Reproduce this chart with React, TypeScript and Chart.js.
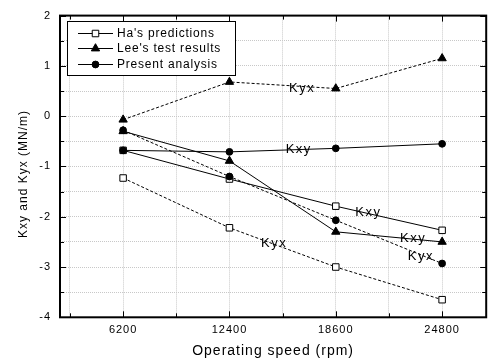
import { useEffect, useRef } from 'react';
import { Chart, registerables } from 'chart.js';

Chart.register(...registerables);

// Operating speeds (rpm)
const speeds = [6200, 12400, 18600, 24800];

// Cross-coupled stiffness, MN/m
const haKxy = [-0.68, -1.25, -1.79, -2.27];
const haKyx = [-1.23, -2.22, -3.0, -3.65];
const leeKxy = [-0.3, -0.89, -2.3, -2.5];
const leeKyx = [-0.07, 0.68, 0.55, 1.15];
const presentKxy = [-0.68, -0.71, -0.64, -0.55];
const presentKyx = [-0.28, -1.2, -2.07, -2.93];

// Axis ticks
const xTicks = [3100, 6200, 9300, 12400, 15500, 18600, 21700, 24800];
const xLabelled = [6200, 12400, 18600, 24800];
const yTicks = [-4, -3.5, -3, -2.5, -2, -1.5, -1, -0.5, 0, 0.5, 1, 1.5, 2];

// Curve names written beside the lines (data coordinates)
const curveLabelText = ['Kyx', 'Kxy', 'Kxy', 'Kxy', 'Kyx', 'Kyx'];
const curveLabelX = [16640, 16440, 20500, 23110, 23560, 15000];
const curveLabelY = [0.56, -0.66, -1.92, -2.43, -2.78, -2.54];

const legendNames = ["Ha's predictions", "Lee's test results", 'Present analysis'];
const legendStyles = ['rect', 'triangle', 'circle'];

const FONT = '"Liberation Sans", Arial, Helvetica, sans-serif';
const INK = '#000';

const pts = (ys: number[]) => speeds.map((x, i) => ({ x, y: ys[i] }));

function drawMarker(ctx: CanvasRenderingContext2D, style: string, x: number, y: number) {
  ctx.save();
  ctx.lineWidth = 1;
  ctx.strokeStyle = INK;
  ctx.beginPath();
  if (style === 'rect') {
    const s = 4.6 * Math.SQRT1_2;
    ctx.rect(x - s, y - s, 2 * s, 2 * s);
    ctx.fillStyle = '#fff';
  } else if (style === 'triangle') {
    const r = 4.8;
    ctx.moveTo(x, y - r);
    ctx.lineTo(x + r * Math.sin((2 * Math.PI) / 3), y + r / 2);
    ctx.lineTo(x - r * Math.sin((2 * Math.PI) / 3), y + r / 2);
    ctx.closePath();
    ctx.fillStyle = INK;
  } else {
    ctx.arc(x, y, 3.4, 0, Math.PI * 2);
    ctx.fillStyle = INK;
  }
  ctx.fill();
  ctx.stroke();
  ctx.restore();
}

const framePlugin = {
  id: 'frame',
  beforeDraw(chart: any) {
    chart.ctx.letterSpacing = '1px';
  },
  beforeDatasetsDraw(chart: any) {
    const { ctx, chartArea: a, scales } = chart;
    ctx.save();
    ctx.strokeStyle = INK;
    ctx.lineWidth = 1;
    ctx.beginPath();
    for (const v of xTicks) {
      const px = Math.round(scales.x.getPixelForValue(v)) + 0.5;
      const len = xLabelled.includes(v) ? 6 : 4;
      ctx.moveTo(px, a.bottom);
      ctx.lineTo(px, a.bottom - len);
      ctx.moveTo(px, a.top);
      ctx.lineTo(px, a.top + len);
    }
    for (const v of yTicks) {
      const py = Math.round(scales.y.getPixelForValue(v)) + 0.5;
      const len = Number.isInteger(v) ? 6 : 4;
      ctx.moveTo(a.left, py);
      ctx.lineTo(a.left + len, py);
      ctx.moveTo(a.right, py);
      ctx.lineTo(a.right - len, py);
    }
    ctx.stroke();
    ctx.lineWidth = 2;
    ctx.strokeRect(a.left, a.top, a.right - a.left, a.bottom - a.top);
    ctx.restore();
  },
  afterDatasetsDraw(chart: any) {
    const { ctx, chartArea: a, scales } = chart;
    ctx.save();
    ctx.fillStyle = INK;

    // curve names
    ctx.font = `13px ${FONT}`;
    ctx.letterSpacing = '1.5px';
    ctx.textAlign = 'center';
    ctx.textBaseline = 'middle';
    curveLabelText.forEach((t, i) => {
      ctx.fillText(t, scales.x.getPixelForValue(curveLabelX[i]), scales.y.getPixelForValue(curveLabelY[i]));
    });

    // axis titles
    ctx.letterSpacing = '1px';
    ctx.font = `14px ${FONT}`;
    ctx.fillText('Operating speed (rpm)', (a.left + a.right) / 2, 351);
    ctx.save();
    ctx.translate(24, 174);
    ctx.rotate(-Math.PI / 2);
    ctx.font = `12px ${FONT}`;
    ctx.fillText('Kxy and Kyx (MN/m)', 0, 0);
    ctx.restore();

    // legend
    const bx = 67, by = 21, bw = 168, bh = 54;
    ctx.fillStyle = '#fff';
    ctx.fillRect(bx, by, bw, bh);
    ctx.strokeStyle = INK;
    ctx.lineWidth = 1;
    ctx.strokeRect(bx + 0.5, by + 0.5, bw, bh);
    ctx.font = `12px ${FONT}`;
    ctx.letterSpacing = '0.8px';
    ctx.textAlign = 'left';
    ctx.fillStyle = INK;
    legendNames.forEach((name, i) => {
      const y = 32.5 + i * 15.5;
      ctx.beginPath();
      ctx.moveTo(78, Math.round(y) + 0.5);
      ctx.lineTo(113, Math.round(y) + 0.5);
      ctx.stroke();
      drawMarker(ctx, legendStyles[i], 95.5, Math.round(y) + 0.5);
      ctx.fillStyle = INK;
      ctx.fillText(name, 117, y + 1);
    });
    ctx.restore();
  },
};

export default function App() {
  const ref = useRef<HTMLCanvasElement>(null);

  useEffect(() => {
    if (!ref.current) return;
    const line = (ys: number[], style: string, dashed: boolean, fill: string, radius: number) => ({
      data: pts(ys),
      borderColor: INK,
      borderWidth: 1,
      borderDash: dashed ? [3, 2] : [],
      pointStyle: style,
      pointRadius: radius,
      pointBackgroundColor: fill,
      pointBorderColor: INK,
      pointBorderWidth: 1,
      fill: false,
      tension: 0,
    });
    const chart = new Chart(ref.current, {
      type: 'line',
      data: {
        datasets: [
          line(presentKxy, 'circle', false, INK, 3.4),
          line(presentKyx, 'circle', true, INK, 3.4),
          line(leeKxy, 'triangle', false, INK, 4.8),
          line(leeKyx, 'triangle', true, INK, 4.8),
          line(haKxy, 'rect', false, '#fff', 4.6),
          line(haKyx, 'rect', true, '#fff', 4.6),
        ] as any,
      },
      options: {
        animation: false,
        responsive: false,
        events: [],
        layout: { padding: { top: 15, left: 0, right: 0, bottom: 0 } },
        plugins: { legend: { display: false }, tooltip: { enabled: false } },
        scales: {
          x: {
            type: 'linear',
            min: 2520,
            max: 27370,
            afterBuildTicks: (s: any) => {
              s.ticks = xTicks.map((value) => ({ value }));
            },
            afterFit: (s: any) => {
              s.height = 42.7;
            },
            grid: { color: '#c8c8c8', lineWidth: 1, drawTicks: false },
            border: { display: false, dash: [1, 1] },
            ticks: {
              autoSkip: false,
              maxRotation: 0,
              padding: 6,
              color: INK,
              font: { family: FONT, size: 11 },
              callback: (v: any) => (xLabelled.includes(Number(v)) ? String(v) : ''),
            },
          },
          y: {
            type: 'linear',
            min: -4,
            max: 2,
            afterBuildTicks: (s: any) => {
              s.ticks = yTicks.map((value) => ({ value }));
            },
            afterFit: (s: any) => {
              s.width = 60;
            },
            grid: { color: '#c8c8c8', lineWidth: 1, drawTicks: false },
            border: { display: false, dash: [1, 1] },
            ticks: {
              autoSkip: false,
              padding: 9,
              color: INK,
              font: { family: FONT, size: 11 },
              callback: (v: any) => (Number.isInteger(Number(v)) ? String(v) : ''),
            },
          },
        },
      },
      plugins: [framePlugin],
    });
    return () => chart.destroy();
  }, []);

  return (
    <div style={{ position: 'fixed', left: 0, top: 0, width: 492, height: 360, background: '#fff' }}>
      <canvas ref={ref} width={492} height={360} style={{ display: 'block' }} />
    </div>
  );
}
